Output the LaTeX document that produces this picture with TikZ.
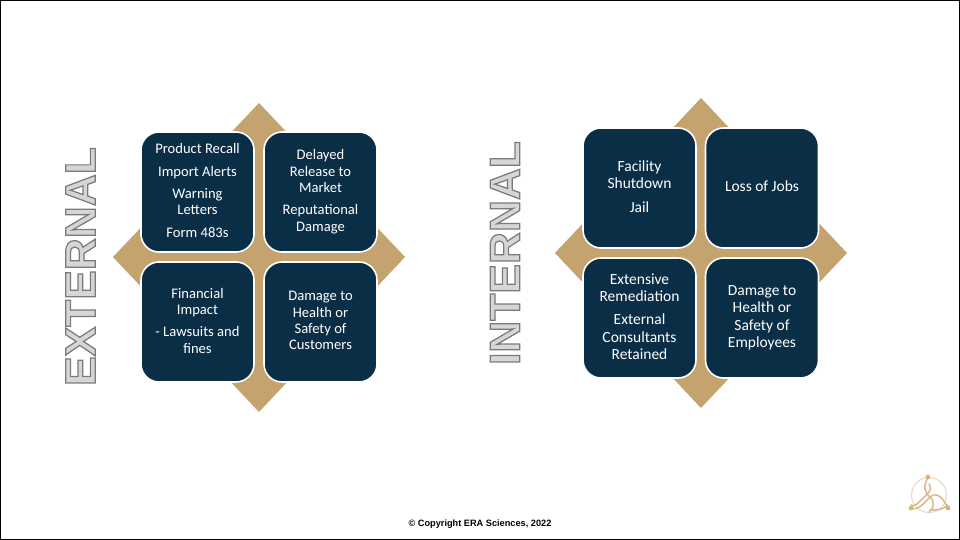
\documentclass[tikz,border=0pt]{standalone}
\usepackage{fontspec}
\setmainfont{Carlito}
\newfontfamily\arialfont{Liberation Sans}
\definecolor{navy}{HTML}{0B2E47}
\definecolor{gold}{HTML}{C4A36F}
\definecolor{logogold}{HTML}{D9B680}
\definecolor{ringgold}{HTML}{EADCC6}
\definecolor{fillgray}{HTML}{D6D6D6}
\newcommand{\outlined}[1]{\special{pdf:code 2 Tr 1.2 w 0.48 0.48 0.48 RG}#1\special{pdf:code 0 Tr}}
\tikzset{
  card/.style={draw=white,line width=1.6pt,fill=navy,rounded corners=18pt,minimum width=113pt,minimum height=120pt,
     inner sep=0pt,text=white,align=center,font=\fontsize{14.6}{16.3}\selectfont,
     execute at end node={\rule[-3pt]{0pt}{0pt}}},
  cardlarge/.style={card,font=\fontsize{15.5}{17.2}\selectfont},
  sidelabel/.style={rotate=90,inner sep=0pt,text=fillgray,font=\arialfont\bfseries\fontsize{43}{43}\selectfont},
  footer/.style={inner sep=0pt,text=black,font=\arialfont\bfseries\fontsize{9.2}{10}\selectfont},
  rhomb/.style={fill=gold},
  scroll/.style={draw=logogold,line width=1.4pt,line cap=round}
}
\newcommand{\paragap}{\\[6pt]}
\begin{document}
\begin{tikzpicture}[x=1pt,y=-1pt]
\useasboundingbox (0,0) rectangle (960,540);
\fill[white] (0,0) rectangle (960,540);
\draw[black,line width=1pt] (0.5,0.5) rectangle (959.5,539.5);
% left diamond
\fill[rhomb] (259,103) -- (405,257) -- (259,412) -- (113,257) -- cycle;
\node[card] (e1) at (197.5,192) {Product Recall\paragap Import Alerts\paragap Warning\\Letters\paragap Form 483s};
\node[card] (e2) at (320.5,192) {Delayed\\Release to\\Market\paragap Reputational\\Damage};
\node[card] (e3) at (197.5,322) {Financial\\Impact\paragap - Lawsuits and\\fines};
\node[card] (e4) at (320.5,322) {Damage to\\Health or\\Safety of\\Customers};
\node[sidelabel] (ext) at (80.5,266.5) {\scalebox{1.03}[1]{\outlined{EXTERNAL}}};
% right diamond
\fill[rhomb] (701,98) -- (847,253) -- (701,408) -- (555,253) -- cycle;
\node[cardlarge] (i1) at (639.5,188) {Facility\\Shutdown\paragap Jail};
\node[cardlarge] (i2) at (762,188) {Loss of Jobs};
\node[cardlarge] (i3) at (639.5,318) {Extensive\\Remediation\paragap External\\Consultants\\Retained};
\node[cardlarge] (i4) at (762,318) {Damage to\\Health or\\Safety of\\Employees};
\node[sidelabel] (int) at (505,253) {\scalebox{1.03}[1]{\outlined{INTERNAL}}};
% footer
\node[footer] (copy) at (480,524) {© Copyright ERA Sciences, 2022};
% logo
\draw[ringgold,line width=1.2pt] (929,495) circle (17.5);
\draw[scroll] (928,478) .. controls (923,486) and (924,492) .. (930,497) .. controls (935,502) and (934,508) .. (929,512);
\draw[scroll] (911,508) .. controls (918,511) and (924,503) .. (929,498) .. controls (935,492) and (941,494) .. (948,508);
\draw[scroll] (929,484) .. controls (934,490) and (925,496) .. (921,500) .. controls (917,504) and (915,507) .. (911,505);
\draw[scroll] (948,505) .. controls (943,510) and (936,510) .. (930,510);
\fill[logogold] (928,477) circle (2.4) (911,508) circle (2.4) (948,508) circle (2.4);
\end{tikzpicture}
\end{document}
